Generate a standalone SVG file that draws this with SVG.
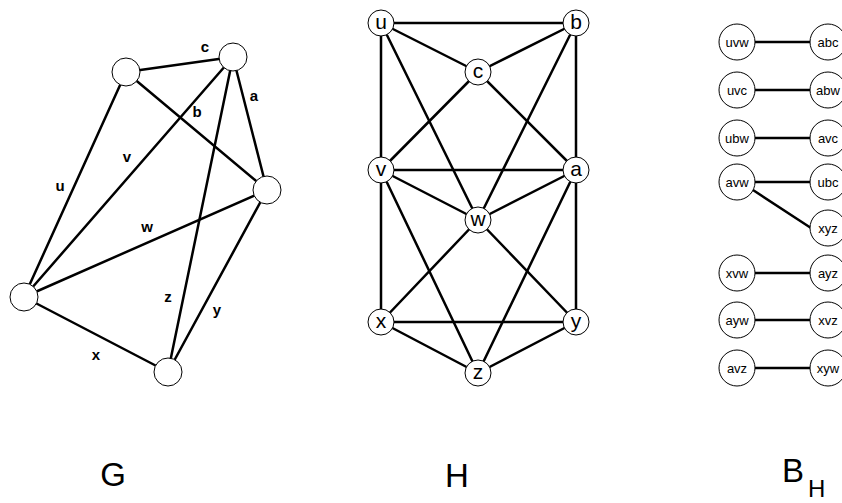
<svg xmlns="http://www.w3.org/2000/svg" width="842" height="503" viewBox="0 0 842 503">
<style>
.e{stroke:#000;stroke-width:2.5;fill:none;stroke-linecap:round}
.n{fill:#fff;stroke:#000;stroke-width:1}
.gl{font-family:"Liberation Sans",Arial,sans-serif;font-weight:bold;font-size:15px;text-anchor:middle;fill:#000}
.hl{font-family:"Liberation Sans",Arial,sans-serif;font-size:21px;text-anchor:middle;fill:#000}
.bl{font-family:"Liberation Sans",Arial,sans-serif;font-size:13px;text-anchor:middle;fill:#000}
.big{font-family:"Liberation Sans",Arial,sans-serif;font-size:33px;fill:#000}
</style>
<rect width="842" height="503" fill="#fff"/>
<!-- Graph G -->
<g id="G-edges">
<line class="e" x1="126" y1="72" x2="233" y2="57"/>
<line class="e" x1="126" y1="72" x2="24" y2="297"/>
<line class="e" x1="126" y1="72" x2="267" y2="190"/>
<line class="e" x1="233" y1="57" x2="267" y2="190"/>
<line class="e" x1="24" y1="297" x2="233" y2="57"/>
<line class="e" x1="24" y1="297" x2="267" y2="190"/>
<line class="e" x1="233" y1="57" x2="168" y2="372"/>
<line class="e" x1="267" y1="190" x2="168" y2="372"/>
<line class="e" x1="24" y1="297" x2="168" y2="372"/>
</g>
<g id="G-labels">
<text class="gl" x="205" y="52">c</text>
<text class="gl" x="254" y="101">a</text>
<text class="gl" x="197" y="117">b</text>
<text class="gl" x="127" y="162">v</text>
<text class="gl" x="60" y="191">u</text>
<text class="gl" x="147" y="232">w</text>
<text class="gl" x="168" y="302">z</text>
<text class="gl" x="217" y="315">y</text>
<text class="gl" x="96" y="360">x</text>
</g>
<g id="G-n1"><circle class="n" cx="126" cy="72" r="14"/></g>
<g id="G-n2"><circle class="n" cx="233" cy="57" r="14"/></g>
<g id="G-n3"><circle class="n" cx="267" cy="190" r="14"/></g>
<g id="G-n4"><circle class="n" cx="24" cy="297" r="14"/></g>
<g id="G-n5"><circle class="n" cx="168" cy="372" r="14"/></g>
<!-- Graph H -->
<g id="H-edges">
<line class="e" x1="381" y1="23" x2="576" y2="23"/>
<line class="e" x1="381" y1="23" x2="478" y2="72"/>
<line class="e" x1="381" y1="23" x2="381" y2="170"/>
<line class="e" x1="381" y1="23" x2="478" y2="220"/>
<line class="e" x1="576" y1="23" x2="478" y2="72"/>
<line class="e" x1="576" y1="23" x2="576" y2="170"/>
<line class="e" x1="576" y1="23" x2="478" y2="220"/>
<line class="e" x1="478" y1="72" x2="381" y2="170"/>
<line class="e" x1="478" y1="72" x2="576" y2="170"/>
<line class="e" x1="381" y1="170" x2="576" y2="170"/>
<line class="e" x1="381" y1="170" x2="478" y2="220"/>
<line class="e" x1="381" y1="170" x2="381" y2="322"/>
<line class="e" x1="381" y1="170" x2="478" y2="373"/>
<line class="e" x1="576" y1="170" x2="478" y2="220"/>
<line class="e" x1="576" y1="170" x2="576" y2="322"/>
<line class="e" x1="576" y1="170" x2="478" y2="373"/>
<line class="e" x1="478" y1="220" x2="381" y2="322"/>
<line class="e" x1="478" y1="220" x2="576" y2="322"/>
<line class="e" x1="381" y1="322" x2="576" y2="322"/>
<line class="e" x1="381" y1="322" x2="478" y2="373"/>
<line class="e" x1="576" y1="322" x2="478" y2="373"/>
</g>
<g id="H-u"><circle class="n" cx="381" cy="23" r="13"/><text class="hl" x="381" y="29">u</text></g>
<g id="H-b"><circle class="n" cx="576" cy="23" r="13"/><text class="hl" x="576" y="29">b</text></g>
<g id="H-c"><circle class="n" cx="478" cy="72" r="13"/><text class="hl" x="478" y="78">c</text></g>
<g id="H-v"><circle class="n" cx="381" cy="170" r="13"/><text class="hl" x="381" y="176">v</text></g>
<g id="H-a"><circle class="n" cx="576" cy="170" r="13"/><text class="hl" x="576" y="176">a</text></g>
<g id="H-w"><circle class="n" cx="478" cy="220" r="13"/><text class="hl" x="478" y="226">w</text></g>
<g id="H-x"><circle class="n" cx="381" cy="322" r="13"/><text class="hl" x="381" y="328">x</text></g>
<g id="H-y"><circle class="n" cx="576" cy="322" r="13"/><text class="hl" x="576" y="328">y</text></g>
<g id="H-z"><circle class="n" cx="478" cy="373" r="13"/><text class="hl" x="478" y="379">z</text></g>
<!-- B_H -->
<g id="B-edges">
<line class="e" x1="755" y1="42" x2="810" y2="42"/>
<line class="e" x1="755" y1="90" x2="810" y2="90"/>
<line class="e" x1="755" y1="138" x2="810" y2="138"/>
<line class="e" x1="755" y1="182" x2="810" y2="182"/>
<line class="e" x1="753" y1="190" x2="811" y2="228"/>
<line class="e" x1="755" y1="273" x2="810" y2="273"/>
<line class="e" x1="755" y1="320" x2="810" y2="320"/>
<line class="e" x1="755" y1="368" x2="810" y2="368"/>
</g>
<g id="B-uvw"><circle class="n" cx="737" cy="42" r="18"/><text class="bl" x="737" y="46.5">uvw</text></g>
<g id="B-abc"><circle class="n" cx="828" cy="42" r="18"/><text class="bl" x="828" y="46.5">abc</text></g>
<g id="B-uvc"><circle class="n" cx="737" cy="90" r="18"/><text class="bl" x="737" y="94.5">uvc</text></g>
<g id="B-abw"><circle class="n" cx="828" cy="90" r="18"/><text class="bl" x="828" y="94.5">abw</text></g>
<g id="B-ubw"><circle class="n" cx="737" cy="138" r="18"/><text class="bl" x="737" y="142.5">ubw</text></g>
<g id="B-avc"><circle class="n" cx="828" cy="138" r="18"/><text class="bl" x="828" y="142.5">avc</text></g>
<g id="B-avw"><circle class="n" cx="737" cy="182" r="18"/><text class="bl" x="737" y="186.5">avw</text></g>
<g id="B-ubc"><circle class="n" cx="828" cy="182" r="18"/><text class="bl" x="828" y="186.5">ubc</text></g>
<g id="B-xyz"><circle class="n" cx="828" cy="228" r="18"/><text class="bl" x="828" y="232.5">xyz</text></g>
<g id="B-xvw"><circle class="n" cx="737" cy="273" r="18"/><text class="bl" x="737" y="277.5">xvw</text></g>
<g id="B-ayz"><circle class="n" cx="828" cy="273" r="18"/><text class="bl" x="828" y="277.5">ayz</text></g>
<g id="B-ayw"><circle class="n" cx="737" cy="320" r="18"/><text class="bl" x="737" y="324.5">ayw</text></g>
<g id="B-xvz"><circle class="n" cx="828" cy="320" r="18"/><text class="bl" x="828" y="324.5">xvz</text></g>
<g id="B-avz"><circle class="n" cx="737" cy="368" r="18"/><text class="bl" x="737" y="372.5">avz</text></g>
<g id="B-xyw"><circle class="n" cx="828" cy="368" r="18"/><text class="bl" x="828" y="372.5">xyw</text></g>
<!-- Titles -->
<g id="titles">
<text class="big" x="113" y="486" text-anchor="middle">G</text>
<text class="big" x="457" y="487" text-anchor="middle">H</text>
<text class="big" x="782" y="482">B</text>
<text x="808" y="497" font-family="Liberation Sans, Arial, sans-serif" font-size="24" fill="#000">H</text>
</g>
</svg>
